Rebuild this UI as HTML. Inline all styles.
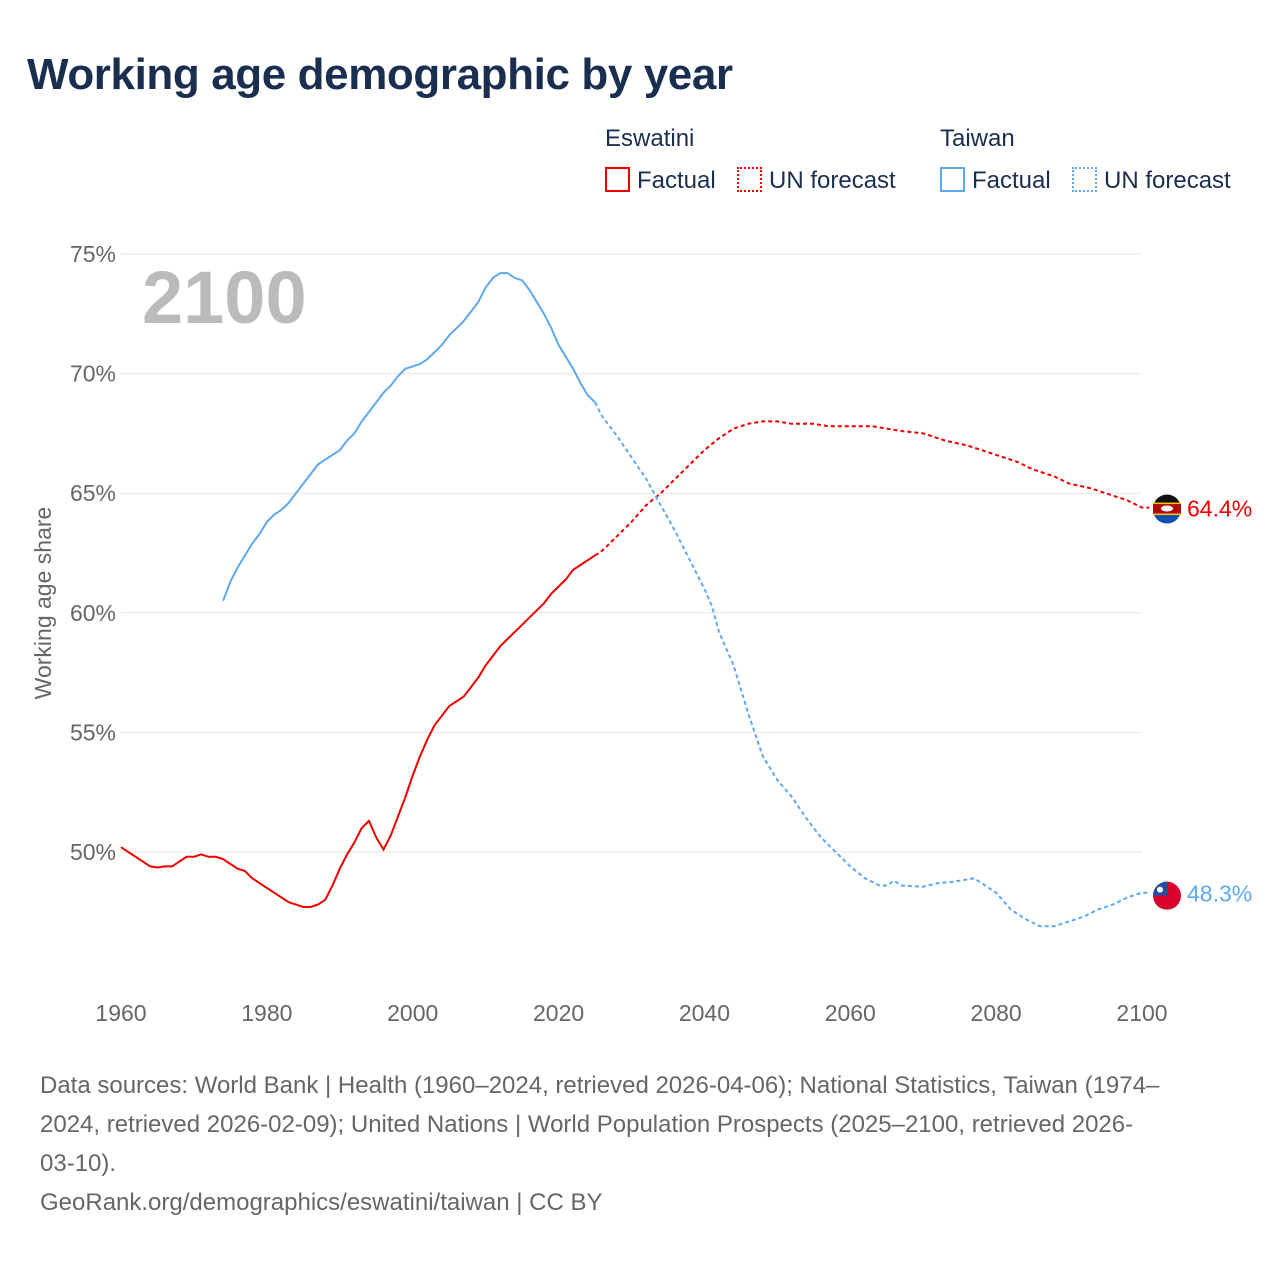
<!DOCTYPE html>
<html><head><meta charset="utf-8"><style>
body{margin:0;width:1280px;height:1280px;background:#fff;font-family:"Liberation Sans",sans-serif;overflow:hidden;position:relative}
.t{position:absolute;white-space:nowrap}
</style></head><body>
<div class="t" style="left:27px;top:50px;font-size:44px;font-weight:bold;color:#1a2e4f;letter-spacing:-0.4px">Working age demographic by year</div>
<div class="t" style="left:605px;top:125px;font-size:24px;color:#1a2e4f">Eswatini</div>
<div class="t" style="left:940px;top:125px;font-size:24px;color:#1a2e4f">Taiwan</div>
<div class="t" style="left:605px;top:167px;font-size:24px;color:#1a2e4f"><span style="display:inline-block;width:21px;height:21px;border:2px solid #e00;vertical-align:-4px;margin-right:7px"></span>Factual</div>
<div class="t" style="left:737px;top:167px;font-size:24px;color:#1a2e4f"><span style="display:inline-block;width:21px;height:21px;border:2px dotted #e00;vertical-align:-4px;margin-right:7px"></span>UN forecast</div>
<div class="t" style="left:940px;top:167px;font-size:24px;color:#1a2e4f"><span style="display:inline-block;width:21px;height:21px;border:2px solid #5ea8ee;vertical-align:-4px;margin-right:7px"></span>Factual</div>
<div class="t" style="left:1072px;top:167px;font-size:24px;color:#1a2e4f"><span style="display:inline-block;width:21px;height:21px;border:2px dotted #5ea8ee;vertical-align:-4px;margin-right:7px"></span>UN forecast</div>
<svg id="chart" width="1280" height="1280" style="position:absolute;left:0;top:0"></svg>
<div class="t" style="left:40px;top:1066px;font-size:24px;line-height:39px;color:#666">Data sources: World Bank | Health (1960–2024, retrieved 2026-04-06); National Statistics, Taiwan (1974–<br>2024, retrieved 2026-02-09); United Nations | World Population Prospects (2025–2100, retrieved 2026-<br>03-10).<br>GeoRank.org/demographics/eswatini/taiwan | CC BY</div>
<script>
const yTicks=[50,55,60,65,70,75];
const xTicks=[1960,1980,2000,2020,2040,2060,2080,2100];
const eswYears=[1960,1962,1963,1964,1965,1966,1967,1968,1969,1970,1971,1972,1973,1974,1975,1976,1977,1978,1980,1982,1983,1984,1985,1986,1987,1988,1989,1990,1991,1992,1993,1994,1995,1996,1997,1998,1999,2000,2001,2002,2003,2004,2005,2006,2007,2008,2009,2010,2011,2012,2013,2014,2015,2016,2017,2018,2019,2020,2021,2022,2023,2024,2025];
const eswVals=[50.2,49.8,49.6,49.4,49.35,49.4,49.4,49.6,49.8,49.8,49.9,49.8,49.8,49.7,49.5,49.3,49.2,48.9,48.5,48.1,47.9,47.8,47.7,47.7,47.8,48.0,48.6,49.3,49.9,50.4,51.0,51.3,50.6,50.1,50.7,51.5,52.3,53.2,54.0,54.7,55.3,55.7,56.1,56.3,56.5,56.9,57.3,57.8,58.2,58.6,58.9,59.2,59.5,59.8,60.1,60.4,60.8,61.1,61.4,61.8,62.0,62.2,62.4];
const eswFYears=[2025,2026,2028,2030,2032,2034,2036,2038,2040,2042,2044,2046,2048,2050,2052,2055,2057,2060,2063,2065,2067,2070,2073,2076,2078,2080,2083,2085,2088,2090,2093,2095,2098,2100,2101];
const eswFVals=[62.4,62.6,63.2,63.8,64.5,65.0,65.6,66.2,66.8,67.3,67.7,67.9,68.0,68.0,67.9,67.9,67.8,67.8,67.8,67.7,67.6,67.5,67.2,67.0,66.8,66.6,66.3,66.0,65.7,65.4,65.2,65.0,64.7,64.4,64.4];
const twYears=[1974,1975,1976,1977,1978,1979,1980,1981,1982,1983,1984,1985,1986,1987,1988,1989,1990,1991,1992,1993,1994,1995,1996,1997,1998,1999,2000,2001,2002,2003,2004,2005,2006,2007,2008,2009,2010,2011,2012,2013,2014,2015,2016,2017,2018,2019,2020,2021,2022,2023,2024,2025];
const twVals=[60.5,61.3,61.9,62.4,62.9,63.3,63.8,64.1,64.3,64.6,65.0,65.4,65.8,66.2,66.4,66.6,66.8,67.2,67.5,68.0,68.4,68.8,69.2,69.5,69.9,70.2,70.3,70.4,70.6,70.9,71.2,71.6,71.9,72.2,72.6,73.0,73.6,74.0,74.2,74.2,74.0,73.9,73.5,73.0,72.5,71.9,71.2,70.7,70.2,69.6,69.1,68.8];
const twFYears=[2025,2026,2028,2030,2032,2034,2036,2038,2040,2041,2042,2044,2046,2048,2050,2052,2054,2056,2058,2060,2062,2064,2065,2066,2067,2070,2072,2074,2076,2077,2078,2080,2082,2084,2086,2088,2090,2092,2094,2096,2098,2100,2101];
const twFVals=[68.8,68.2,67.4,66.5,65.6,64.5,63.4,62.2,61.0,60.3,59.2,57.8,55.8,54.0,53.0,52.3,51.4,50.6,50.0,49.4,48.9,48.6,48.6,48.8,48.6,48.55,48.7,48.75,48.85,48.9,48.7,48.3,47.6,47.2,46.9,46.9,47.1,47.3,47.6,47.8,48.1,48.3,48.3];
const x=v=>121+(v-1960)*(1142-121)/140;
const y=v=>852-(v-50)*(852-254)/25;
const svg=document.getElementById('chart');
const NS='http://www.w3.org/2000/svg';
function mk(t,a){const e=document.createElementNS(NS,t);for(const k in a)e.setAttribute(k,a[k]);svg.appendChild(e);return e;}
yTicks.forEach(v=>{
 const g=mk('line',{x1:121,x2:1142,y1:y(v),y2:y(v),stroke:'#e6e6e6','stroke-width':1});
 
 
 const t=mk('text',{x:116,y:y(v)+8,'text-anchor':'end','font-size':23,fill:'#666','font-family':'Liberation Sans, sans-serif'});
 t.textContent=v+'%';
 
 
});
xTicks.forEach(v=>{
 const t=mk('text',{x:x(v),y:1021,'text-anchor':'middle','font-size':23,fill:'#666','font-family':'Liberation Sans, sans-serif'});
 t.textContent=v;
 
 
});
const yl=mk('text',{x:0,y:0,transform:'translate(51,603) rotate(-90)','text-anchor':'middle','font-size':23,fill:'#666','font-family':'Liberation Sans, sans-serif'});
yl.textContent='Working age share';


const yr=mk('text',{x:142,y:323,'font-size':74,'font-weight':'bold',fill:'#bbb','font-family':'Liberation Sans, sans-serif'});
yr.textContent='2100';


function line(xs,vs,c,dash,name){
 const p=mk('path',{d:xs.map((a,i)=>(i?'L':'M')+x(a).toFixed(1)+','+y(vs[i]).toFixed(1)).join(''),fill:'none',stroke:c,'stroke-width':2,'stroke-dasharray':dash?'4 3':'none'});
 
 
}
line(eswYears,eswVals,'#e00',false,'eswatini-factual-line');
line(eswFYears,eswFVals,'#e00',true,'eswatini-forecast-line');
line(twYears,twVals,'#5ea8ee',false,'taiwan-factual-line');
line(twFYears,twFVals,'#5ea8ee',true,'taiwan-forecast-line');
function flag(cy,col,name){
 const c=mk('circle',{cx:1167,cy:cy,r:14,fill:col});
 
 
}
const ey=y(eswFVals[eswFVals.length-1])+2, ty=y(twFVals[twFVals.length-1])+3;
flag(ey,'#0e4fb0','eswatini-flag');
mk('path',{d:`M1153,${ey-1} A14,14 0 0 1 1181,${ey-1} Z`,fill:'#111'});
mk('rect',{x:1153,y:ey-6,width:28,height:10,fill:'#b10c0c'});
mk('rect',{x:1153,y:ey-7,width:28,height:1.5,fill:'#f6c800'});
mk('rect',{x:1153,y:ey+4,width:28,height:1.5,fill:'#f6c800'});
mk('ellipse',{cx:1167,cy:ey-1,rx:6,ry:3,fill:'#fff'});
flag(ty,'#d8002c','taiwan-flag');
mk('path',{d:`M1153,${ty} A14,14 0 0 1 1167,${ty-14} L1167,${ty} Z`,fill:'#1e4fa0'});
mk('circle',{cx:1160,cy:ty-6,r:3,fill:'#fff'});
const l1=mk('text',{x:1187,y:ey+7,'font-size':23,fill:'#e00','font-family':'Liberation Sans, sans-serif'});
l1.textContent='64.4%';


const l2=mk('text',{x:1187,y:ty+6,'font-size':23,fill:'#5ea8ee','font-family':'Liberation Sans, sans-serif'});
l2.textContent='48.3%';


</script>
</body></html>
